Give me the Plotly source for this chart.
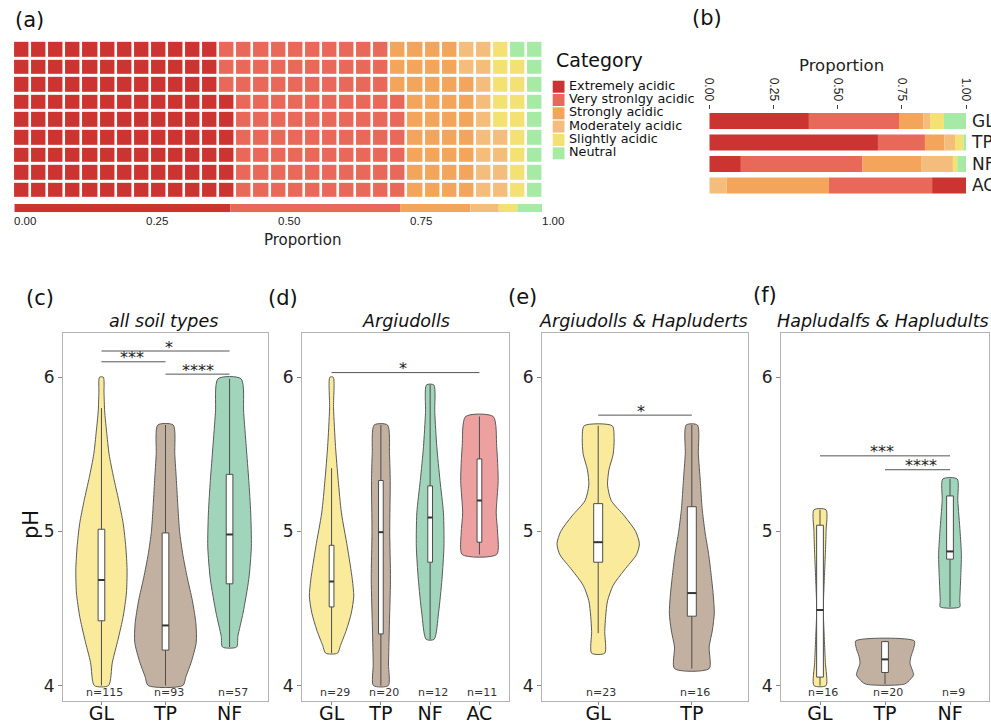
import plotly.graph_objects as go

W, H = 991, 721

def fx(p):
    return p / W

def fy(p):
    return 1 - p / H

# ---------------- data ----------------
categories = ["Extremely acidic", "Very stronlgy acidic", "Strongly acidic",
              "Moderately acidic", "Slightly acidic", "Neutral"]
cat_colors = ["#CC3431", "#E8695A", "#F2A55B", "#F5BD7B", "#F3E273", "#A6EAA6"]

waffle_counts = [114, 90, 37, 15, 13, 10]
waffle_rows = 9
overall_prop = [0.409, 0.322, 0.133, 0.054, 0.035, 0.047]
prop_ticks = [0.0, 0.25, 0.5, 0.75, 1.0]
prop_ticktext = ["0.00", "0.25", "0.50", "0.75", "1.00"]

b_groups = ["GL", "TP", "NF", "AC"]
b_GL = [0.388, 0.351, 0.095, 0.026, 0.054, 0.086]
b_TP = [0.657, 0.183, 0.076, 0.041, 0.033, 0.010]
b_NF = [0.123, 0.474, 0.228, 0.124, 0.017, 0.034]
b_AC = [0.132, 0.402, 0.398, 0.068, 0.0, 0.0]
b_orders = [[0, 1, 2, 3, 4, 5], [0, 1, 2, 3, 4, 5], [0, 1, 2, 3, 4, 5], [3, 2, 1, 0]]

group_colors = {"GL": "#F9EA9C", "TP": "#C2B0A0", "NF": "#A0D4BB", "AC": "#EDA0A0"}

# violin outlines: pH levels and half widths (category units), box stats [low, q1, median, q3, high]
c_groups = ["GL", "TP", "NF"]
c_n = [115, 93, 57]
c_ph = {
    "GL": [6.00, 5.90, 5.78, 5.65, 5.50, 5.35, 5.20, 5.05, 4.90, 4.75, 4.60, 4.45, 4.30, 4.15, 4.00],
    "TP": [5.69, 5.50, 5.33, 5.15, 5.00, 4.85, 4.70, 4.55, 4.40, 4.28, 4.15, 4.06, 4.00],
    "NF": [5.99, 5.77, 5.55, 5.33, 5.12, 4.90, 4.69, 4.47, 4.32, 4.25],
}
c_hw = {
    "GL": [0.03, 0.04, 0.05, 0.08, 0.12, 0.19, 0.27, 0.34, 0.38, 0.40, 0.39, 0.34, 0.26, 0.17, 0.11],
    "TP": [0.12, 0.145, 0.17, 0.195, 0.22, 0.27, 0.34, 0.42, 0.475, 0.48, 0.40, 0.32, 0.27],
    "NF": [0.18, 0.22, 0.26, 0.30, 0.33, 0.34, 0.30, 0.21, 0.13, 0.11],
}
c_box = {"GL": [4.00, 4.42, 4.685, 5.014, 5.80],
         "TP": [4.00, 4.23, 4.39, 4.99, 5.69],
         "NF": [4.25, 4.66, 4.98, 5.37, 5.99]}

d_groups = ["GL", "TP", "NF", "AC"]
d_n = [29, 20, 12, 11]
d_ph = {
    "GL": [6.00, 5.80, 5.55, 5.33, 5.12, 4.90, 4.69, 4.58, 4.47, 4.36, 4.26, 4.21],
    "TP": [5.69, 5.50, 5.33, 5.00, 4.69, 4.36, 4.14, 4.00],
    "NF": [5.95, 5.77, 5.55, 5.33, 5.12, 4.90, 4.69, 4.47, 4.30],
    "AC": [5.745, 5.55, 5.33, 5.12, 4.99, 4.85],
}
d_hw = {
    "GL": [0.034, 0.04, 0.08, 0.135, 0.20, 0.32, 0.42, 0.45, 0.40, 0.30, 0.18, 0.12],
    "TP": [0.135, 0.175, 0.19, 0.18, 0.195, 0.17, 0.155, 0.15],
    "NF": [0.074, 0.094, 0.135, 0.20, 0.27, 0.28, 0.24, 0.17, 0.08],
    "AC": [0.28, 0.35, 0.38, 0.34, 0.37, 0.35],
}
d_box = {"GL": [4.21, 4.51, 4.675, 4.91, 5.41],
         "TP": [4.00, 4.335, 4.995, 5.33, 5.69],
         "NF": [4.30, 4.80, 5.09, 5.295, 5.95],
         "AC": [4.85, 4.93, 5.20, 5.47, 5.745]}

e_groups = ["GL", "TP"]
e_n = [23, 16]
e_ph = {
    "GL": [5.685, 5.60, 5.50, 5.40, 5.30, 5.20, 5.10, 5.00, 4.92, 4.85, 4.75, 4.65, 4.55, 4.45, 4.35, 4.21],
    "TP": [5.69, 5.50, 5.33, 5.15, 5.00, 4.85, 4.70, 4.58, 4.47, 4.36, 4.25, 4.11],
}
e_hw = {
    "GL": [0.15, 0.17, 0.16, 0.115, 0.10, 0.14, 0.28, 0.40, 0.44, 0.41, 0.28, 0.16, 0.10, 0.08, 0.07, 0.07],
    "TP": [0.06, 0.07, 0.09, 0.11, 0.14, 0.18, 0.21, 0.23, 0.24, 0.22, 0.185, 0.185],
}
e_box = {"GL": [4.34, 4.80, 4.93, 5.18, 5.685],
         "TP": [4.11, 4.45, 4.60, 5.16, 5.69]}

f_groups = ["GL", "TP", "NF"]
f_n = [16, 20, 9]
f_ph = {
    "GL": [5.14, 5.00, 4.85, 4.70, 4.49, 4.30, 4.15, 4.00],
    "TP": [4.29, 4.24, 4.19, 4.145, 4.10, 4.07, 4.04, 4.01],
    "NF": [5.34, 5.20, 5.00, 4.85, 4.70, 4.55, 4.51],
}
f_hw = {
    "GL": [0.093, 0.093, 0.082, 0.067, 0.051, 0.067, 0.082, 0.093],
    "TP": [0.45, 0.44, 0.40, 0.385, 0.42, 0.44, 0.39, 0.30],
    "NF": [0.11, 0.12, 0.155, 0.175, 0.165, 0.15, 0.15],
}
f_box = {"GL": [4.00, 4.055, 4.49, 5.04, 5.14],
         "TP": [4.01, 4.085, 4.17, 4.285, 4.29],
         "NF": [4.51, 4.82, 4.87, 5.23, 5.34]}

# significance brackets: (x_start, x_end, y, label, label_x)
c_sig = [(1, 3, 6.17, "*", 2.06), (1, 2, 6.10, "***", 1.47), (2, 3, 6.02, "****", 2.51)]
d_sig = [(1, 4, 6.03, "*", 2.45)]
e_sig = [(1, 2, 5.754, "*", 1.46)]
f_sig = [(1, 3, 5.49, "***", 1.95), (2, 3, 5.40, "****", 2.55)]

# ---------------- figure ----------------
fig = go.Figure()
FONT = "DejaVu Sans"
annotations = []
shapes = []


def ann(**kw):
    kw.setdefault("showarrow", False)
    kw.setdefault("xanchor", "center")
    kw.setdefault("yanchor", "middle")
    annotations.append(kw)


# (a) waffle
ncols = sum(waffle_counts) // waffle_rows
cells = []
for ci, cnt in enumerate(waffle_counts):
    cells += [ci] * cnt
z = [[None] * ncols for _ in range(waffle_rows)]
for k, c in enumerate(cells):
    z[k % waffle_rows][k // waffle_rows] = c
nc = len(categories)
cscale = []
for i, col in enumerate(cat_colors):
    cscale.append([i / nc, col])
    cscale.append([(i + 1) / nc, col])
fig.add_trace(go.Heatmap(z=z, colorscale=cscale, zmin=-0.5, zmax=nc - 0.5, showscale=False,
                         xgap=2.6, ygap=3, hoverinfo="skip", xaxis="x", yaxis="y"))

# (a) overall proportion bar
cum = 0
for i, p in enumerate(overall_prop):
    fig.add_trace(go.Bar(x=[p], y=[0], base=[cum], orientation="h", width=1,
                         marker=dict(color=cat_colors[i], line=dict(width=0)),
                         showlegend=False, hoverinfo="skip", xaxis="x2", yaxis="y2"))
    cum += p

# (b) stacked proportions per group
b_all = [b_GL, b_TP, b_NF, b_AC]
for gi, (g, props, order) in enumerate(zip(b_groups, b_all, b_orders)):
    cum = 0
    for ci in order:
        p = props[ci]
        if p <= 0:
            continue
        fig.add_trace(go.Bar(x=[p], y=[gi], base=[cum], orientation="h", width=0.74,
                             marker=dict(color=cat_colors[ci], line=dict(width=0)),
                             showlegend=False, hoverinfo="skip", xaxis="x3", yaxis="y3"))
        cum += p

# violin panels
panels = [
    ("x4", "y4", c_groups, c_n, c_ph, c_hw, c_box, c_sig, 0.052),
    ("x5", "y5", d_groups, d_n, d_ph, d_hw, d_box, d_sig, 0.048),
    ("x6", "y6", e_groups, e_n, e_ph, e_hw, e_box, e_sig, 0.048),
    ("x7", "y7", f_groups, f_n, f_ph, f_hw, f_box, f_sig, 0.052),
]
LINE = "#4d4d4d"
for xa, ya, groups, ns, phs, hws, boxes, sigs, bhw in panels:
    for gi, g in enumerate(groups):
        pos = gi + 1
        ph = phs[g]
        hw = hws[g]
        xs = [pos + w for w in hw] + [pos - w for w in reversed(hw)] + [pos + hw[0]]
        ys = list(ph) + list(reversed(ph)) + [ph[0]]
        fig.add_trace(go.Scatter(x=xs, y=ys, mode="lines", fill="toself",
                                 fillcolor=group_colors[g],
                                 line=dict(color="#5a5a5a", width=1, shape="spline", smoothing=0.7),
                                 showlegend=False, hoverinfo="skip", xaxis=xa, yaxis=ya))
        lo, q1, med, q3, hi = boxes[g]
        # whisker
        fig.add_trace(go.Scatter(x=[pos, pos], y=[lo, hi], mode="lines",
                                 line=dict(color=LINE, width=1), showlegend=False,
                                 hoverinfo="skip", xaxis=xa, yaxis=ya))
        # box
        fig.add_trace(go.Scatter(x=[pos - bhw, pos + bhw, pos + bhw, pos - bhw, pos - bhw],
                                 y=[q1, q1, q3, q3, q1], mode="lines", fill="toself",
                                 fillcolor="white", line=dict(color=LINE, width=1),
                                 showlegend=False, hoverinfo="skip", xaxis=xa, yaxis=ya))
        # median
        fig.add_trace(go.Scatter(x=[pos - bhw, pos + bhw], y=[med, med], mode="lines",
                                 line=dict(color="#333333", width=2), showlegend=False,
                                 hoverinfo="skip", xaxis=xa, yaxis=ya))
        ann(x=pos, y=3.953, xref=xa, yref=ya, text=f"n={ns[gi]}", xshift=3,
            font=dict(family=FONT, size=11, color="#333"))
    for x0, x1, yv, lab, lx in sigs:
        shapes.append(dict(type="line", x0=x0, x1=x1, y0=yv, y1=yv, xref=xa, yref=ya,
                           line=dict(color="#555", width=1)))
        ann(x=lx, y=yv, xref=xa, yref=ya, text=lab, yshift=4,
            font=dict(family=FONT, size=16, color="#222"))

# ---------------- layout ----------------
hidden = dict(visible=False, showgrid=False, zeroline=False, fixedrange=True, automargin=False)
layout = dict(
    width=W, height=H, margin=dict(l=0, r=0, t=0, b=0, autoexpand=False), autosize=False,
    paper_bgcolor="white", plot_bgcolor="white", showlegend=False, barmode="overlay",
    xaxis=dict(hidden, domain=[fx(13.05), fx(543.35)], range=[-0.5, ncols - 0.5]),
    yaxis=dict(hidden, domain=[fy(199.2), fy(40.8)], range=[-0.5, waffle_rows - 0.5]),
    xaxis2=dict(hidden, domain=[fx(14.3), fx(542.1)], range=[0, 1]),
    yaxis2=dict(hidden, domain=[fy(212.3), fy(204)], range=[-0.5, 0.5]),
    xaxis3=dict(domain=[fx(709.3), fx(966)], range=[0, 1], side="top", tickvals=prop_ticks,
                ticktext=prop_ticktext, tickangle=90, ticks="outside", ticklen=4, tickcolor="#444",
                tickfont=dict(family="Liberation Sans", size=12, color="#222"), showgrid=False,
                zeroline=False, showline=False, anchor="y3", automargin=False),
    yaxis3=dict(domain=[fy(196.25), fy(110.25)], range=[3.5, -0.5], tickvals=[0, 1, 2, 3],
                ticktext=b_groups, side="right", ticks="", showgrid=False, zeroline=False,
                showline=False, ticklabelstandoff=5, automargin=False,
                tickfont=dict(family=FONT, size=17, color="#222"), anchor="x3"),
)

vdom = [(63, 268), (302, 509), (542, 748), (781, 989)]
vrange = [[0.4, 3.6], [0.4, 4.6], [0.4, 2.6], [0.4, 3.6]]
vgroups = [c_groups, d_groups, e_groups, f_groups]
for i in range(4):
    k = i + 4
    layout[f"xaxis{k}"] = dict(domain=[fx(vdom[i][0]), fx(vdom[i][1])], range=vrange[i],
                               tickvals=list(range(1, len(vgroups[i]) + 1)), ticktext=vgroups[i],
                               ticks="outside", ticklen=3, tickcolor="#888", ticklabelstandoff=-8,
                               showgrid=False, zeroline=False, showline=True, mirror=True,
                               linecolor="#b3b3b3", linewidth=1, anchor=f"y{k}", automargin=False,
                               tickfont=dict(family=FONT, size=19, color="#111"))
    layout[f"yaxis{k}"] = dict(domain=[fy(701), fy(332.5)], range=[3.90, 6.29], tickvals=[4, 5, 6],
                               ticktext=["4", "5", "6"], ticks="outside", ticklen=4, tickcolor="#888",
                               showgrid=False, zeroline=False, showline=True, mirror=True,
                               linecolor="#b3b3b3", linewidth=1, anchor=f"x{k}", automargin=False,
                               tickfont=dict(family=FONT, size=17, color="#222"))

# (a) axis tick labels and titles
for v, t in zip(prop_ticks, prop_ticktext):
    ann(x=v, y=fy(221), xref="x2", yref="paper", text=t, xanchor="left", xshift=-2,
        font=dict(family="Liberation Sans", size=11.5, color="#222"))
ann(x=fx(302), y=fy(240), xref="paper", yref="paper", text="Proportion",
    font=dict(family=FONT, size=15, color="#222"))
ann(x=fx(841), y=fy(66), xref="paper", yref="paper", text="Proportion",
    font=dict(family=FONT, size=16.5, color="#222"))

# legend (a)
ann(x=fx(554), y=fy(60), xref="paper", yref="paper", text="Category", xanchor="left",
    font=dict(family=FONT, size=19, color="#111"))
sw_top = [80.7, 94.0, 107.3, 120.6, 134.0, 147.3]
for i, (cat, col) in enumerate(zip(categories, cat_colors)):
    shapes.append(dict(type="rect", xref="paper", yref="paper", x0=fx(552.7), x1=fx(564.5),
                       y0=fy(sw_top[i] + 12), y1=fy(sw_top[i]), fillcolor=col, line=dict(width=0)))
    ann(x=fx(566.5), y=fy(sw_top[i] + 4.5), xref="paper", yref="paper", text=cat, xanchor="left",
        font=dict(family=FONT, size=12.8, color="#111"))

# panel letters
for lab, x, y in [("(a)", 29.5, 20), ("(b)", 707, 18), ("(c)", 40, 298), ("(d)", 282.5, 298),
                  ("(e)", 522, 297), ("(f)", 765, 295)]:
    ann(x=fx(x), y=fy(y), xref="paper", yref="paper", text=lab,
        font=dict(family=FONT, size=21, color="#111"))

# panel titles
for lab, x in [("all soil types", 163), ("Argiudolls", 405.7), ("Argiudolls &amp; Hapluderts", 643),
               ("Hapludalfs &amp; Hapludults", 883)]:
    ann(x=fx(x), y=fy(320.5), xref="paper", yref="paper", text=f"<i>{lab}</i>",
        font=dict(family=FONT, size=17.5, color="#111"))

ann(x=fx(31), y=fy(525), xref="paper", yref="paper", text="pH", textangle=-90,
    font=dict(family=FONT, size=21, color="#111"))

layout["annotations"] = annotations
layout["shapes"] = shapes
fig.update_layout(**layout)

fig.write_html("out.html", config={"displayModeBar": False},
               post_script="document.body.style.margin='0px';")
